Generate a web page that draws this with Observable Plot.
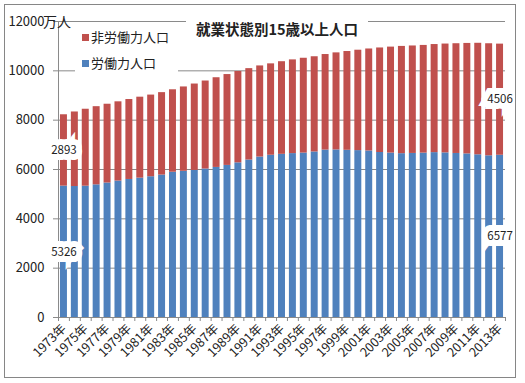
<!DOCTYPE html>
<html><head><meta charset="utf-8">
<script src="https://cdn.jsdelivr.net/npm/d3@7"></script>
<script src="https://cdn.jsdelivr.net/npm/@observablehq/plot@0.6"></script>
<style>
body{margin:0;background:#fff;font-family:"Noto Sans CJK JP","Noto Sans",sans-serif;}
#wrap{position:relative;width:525px;height:383px;overflow:hidden;background:#fff}
#chart{position:absolute;left:0;top:0}
#frame{position:absolute;left:4px;top:4px;width:510px;height:372px;border:1px solid #868686;pointer-events:none}
#title{position:absolute;left:186px;top:18px;width:182px;height:24px;background:#fff;text-align:center;font-weight:bold;font-size:14.5px;line-height:22px;color:#222}
#legend{position:absolute;left:75px;top:26px;width:103px;height:52px;background:#fff;font-size:13px;color:#222}
.li{position:absolute;left:7px;height:16px;line-height:16px;white-space:nowrap}
.sw{display:inline-block;width:7px;height:7px;margin-right:2px;vertical-align:1px}
#unit{position:absolute;left:43px;top:12px;font-size:14px;color:#222;line-height:18px}
</style></head><body>
<div id="wrap">
<div id="chart"></div>
<div id="title">就業状態別15歳以上人口</div>
<div id="legend">
 <div class="li" style="top:3px"><span class="sw" style="background:#C0504D"></span>非労働力人口</div>
 <div class="li" style="top:29px"><span class="sw" style="background:#4F81BD"></span>労働力人口</div>
</div>
<div id="unit">万人</div>
<div id="frame"></div>
</div>
<script>
const years = [1973,1974,1975,1976,1977,1978,1979,1980,1981,1982,1983,1984,1985,1986,1987,1988,1989,1990,1991,1992,1993,1994,1995,1996,1997,1998,1999,2000,2001,2002,2003,2004,2005,2006,2007,2008,2009,2010,2011,2012,2013];
const laborForce = [5326,5310,5323,5378,5452,5532,5596,5650,5707,5774,5889,5927,5963,6020,6084,6166,6270,6384,6505,6578,6615,6645,6666,6711,6787,6793,6779,6766,6752,6689,6666,6642,6651,6664,6684,6674,6650,6632,6596,6555,6577];
const nonLaborForce = [2893,3022,3120,3169,3194,3212,3241,3282,3310,3342,3343,3420,3502,3567,3636,3683,3704,3705,3694,3705,3755,3799,3844,3860,3874,3935,4004,4070,4134,4238,4296,4348,4357,4366,4382,4412,4449,4479,4521,4543,4506];
const seriesNames = ["労働力人口","非労働力人口"];
const seriesColors = ["#4F81BD","#C0504D"];
const yTicks = [0,2000,4000,6000,8000,10000,12000];
const labeledYears = [1973,2013];

const table = [];
years.forEach((y,i)=>table.push({year:y,type:seriesNames[0],value:laborForce[i]}));
years.forEach((y,i)=>table.push({year:y,type:seriesNames[1],value:nonLaborForce[i]}));

const W=525,H=383,ml=58,mr=20,mt=21,mb=66;
const step=(W-ml-mr)/years.length;
const gray="#8a8a8a";

const chart = Plot.plot({
  width:W,height:H,marginLeft:ml,marginRight:mr,marginTop:mt,marginBottom:mb,
  style:{fontFamily:'"Noto Sans CJK JP","Noto Sans",sans-serif',color:"#222",background:"transparent",overflow:"visible"},
  x:{type:"band",domain:years,paddingInner:0.36,paddingOuter:0.18},
  y:{domain:[0,12000]},
  color:{domain:seriesNames,range:seriesColors},
  marks:[
    Plot.gridY(yTicks,{stroke:gray,strokeOpacity:1}),
    Plot.frame({anchor:"left",stroke:gray}),
    Plot.barY(table,{x:"year",y:"value",fill:"type",z:"type"}),
    Plot.ruleY([0],{stroke:gray}),
    Plot.ruleX(years,{x:d=>d,y1:0,y2:0,insetBottom:-4,dx:-step/2,stroke:gray}),
    Plot.ruleX([years[years.length-1]],{x:d=>d,y1:0,y2:0,insetBottom:-4,dx:step/2,stroke:gray}),
    Plot.axisY({ticks:yTicks,tickSize:5,tickPadding:9,fontSize:13,stroke:gray,label:null,tickFormat:d=>String(d)}),
    Plot.axisX({ticks:years.filter((d,i)=>i%2===0),tickFormat:d=>d+"年",tickRotate:-45,tickSize:0,tickPadding:9,fontSize:12.5,label:null}),
    Plot.text(table.filter(d=>labeledYears.includes(d.year)),Plot.stackY({x:"year",y:"value",z:"type",text:d=>String(d.value),fill:"#222",stroke:"white",strokeWidth:12,strokeLinejoin:"miter",fontSize:11.5}))
  ]
});
document.getElementById("chart").appendChild(chart);
</script>
</body></html>
